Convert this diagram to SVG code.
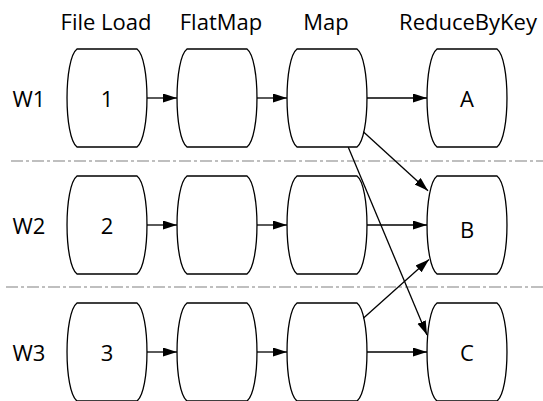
<svg xmlns="http://www.w3.org/2000/svg" width="543" height="401" viewBox="0 0 543 401">
<style>
.box{fill:#fff;stroke:#000;stroke-width:1.3}
.t{font-family:"Open Sans","Noto Sans",sans-serif;font-size:22px;fill:#000;text-anchor:middle}
.c{stroke:#000;stroke-width:1.3;fill:none;marker-end:url(#ah)}
.sep{stroke:#aaa;stroke-width:1.3;stroke-dasharray:12 3 3 3;fill:none}
</style>
<defs>
<marker id="ah" markerUnits="userSpaceOnUse" markerWidth="15" markerHeight="10" refX="14" refY="4.5" orient="auto">
<path d="M0,0 L14,4.5 L0,9 z" fill="#000"/>
</marker>
<path id="barrel" d="M10,0 H70 C83.3,10 83.3,88 70,98 H10 C-3.3,88 -3.3,10 10,0 Z"/>
</defs>
<rect width="543" height="401" fill="#fff"/>
<g id="headers">
<text class="t" x="106" y="29.5">File Load</text>
<text class="t" x="221" y="29.5">FlatMap</text>
<text class="t" x="326" y="29.5">Map</text>
<text class="t" x="468" y="29.5">ReduceByKey</text>
</g>
<g id="rowlabels">
<text class="t" x="29" y="106.5">W1</text>
<text class="t" x="29" y="233.5">W2</text>
<text class="t" x="29" y="360.5">W3</text>
</g>
<g id="separators">
<line class="sep" x1="11" y1="161" x2="543" y2="161"/>
<line class="sep" x1="6" y1="287" x2="543" y2="287"/>
</g>
<g id="n1"><use href="#barrel" class="box" x="67" y="49"/><text class="t" x="107" y="106.5">1</text></g>
<g id="f1"><use href="#barrel" class="box" x="177" y="49"/></g>
<g id="m1"><use href="#barrel" class="box" x="287" y="49"/></g>
<g id="rA"><use href="#barrel" class="box" x="427" y="49"/><text class="t" x="467" y="106.5">A</text></g>
<g id="n2"><use href="#barrel" class="box" x="67" y="176"/><text class="t" x="107" y="233.5">2</text></g>
<g id="f2"><use href="#barrel" class="box" x="177" y="176"/></g>
<g id="m2"><use href="#barrel" class="box" x="287" y="176"/></g>
<g id="rB"><use href="#barrel" class="box" x="427" y="176"/><text class="t" x="467" y="237.5">B</text></g>
<g id="n3"><use href="#barrel" class="box" x="67" y="303"/><text class="t" x="107" y="360.5">3</text></g>
<g id="f3"><use href="#barrel" class="box" x="177" y="303"/></g>
<g id="m3"><use href="#barrel" class="box" x="287" y="303"/></g>
<g id="rC"><use href="#barrel" class="box" x="427" y="303"/><text class="t" x="467" y="360.5">C</text></g>
<g id="connectors">
<line class="c" x1="147" y1="98" x2="177" y2="98"/>
<line class="c" x1="257" y1="98" x2="287" y2="98"/>
<line class="c" x1="367" y1="98" x2="427" y2="98"/>
<line class="c" x1="147" y1="225" x2="177" y2="225"/>
<line class="c" x1="257" y1="225" x2="287" y2="225"/>
<line class="c" x1="367" y1="225" x2="427" y2="225"/>
<line class="c" x1="147" y1="352" x2="177" y2="352"/>
<line class="c" x1="257" y1="352" x2="287" y2="352"/>
<line class="c" x1="367" y1="352" x2="427" y2="352"/>
<line class="c" x1="363.3" y1="131.7" x2="428" y2="190.7"/>
<line class="c" x1="348.3" y1="147.3" x2="427" y2="335"/>
<line class="c" x1="363.3" y1="318.3" x2="429" y2="259.5"/>
</g>
</svg>
